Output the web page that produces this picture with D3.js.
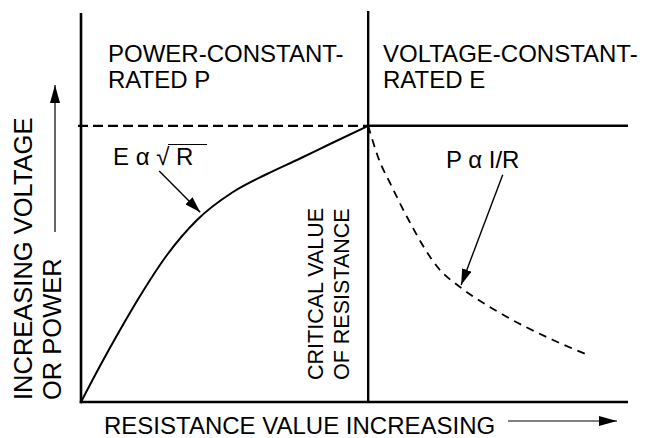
<!DOCTYPE html>
<html>
<head>
<meta charset="utf-8">
<script src="https://cdn.jsdelivr.net/npm/d3@7"></script>
<style>
  html, body { margin: 0; padding: 0; background: #fff; }
  svg { display: block; }
  text { font-family: "Liberation Sans", Arial, sans-serif; fill: #000; }
</style>
</head>
<body>
<svg id="chart" width="645" height="438"></svg>
<script>
// ---- data (abstract units: resistance 0..100, voltage/power 0..100) ----
const criticalR = 52.5;
const ratedLevel = 71;
// E ∝ √R  (voltage rising to the rated value)
const voltageCurveR = [0, 3.47, 7.13, 10.79, 15.72, 21.21, 27.79, 34.0, 40.04, 45.52, 52.5];
const voltageCurveV = [0, 9.25, 18.5, 27.25, 37.79, 46.79, 53.98, 58.61, 62.60, 66.32, 71.0];
// P ∝ 1/R (power falling beyond the critical value)
const powerCurveR = [52.5, 54.3, 56.86, 59.6, 65.63, 69.29, 76.6, 86.29, 92.69];
const powerCurveP = [71.0, 62.98, 55.27, 47.56, 33.93, 29.56, 22.88, 15.94, 12.08];
// region / formula labels
const regionLabels = [["POWER-CONSTANT-", "RATED P"], ["VOLTAGE-CONSTANT-", "RATED E"]];
const criticalLabel = ["CRITICAL VALUE", "OF RESISTANCE"];
const yLabel = ["INCREASING VOLTAGE", "OR POWER"];
const xLabel = "RESISTANCE VALUE INCREASING";
// formula annotations: arrow start / tip in data units
const formulaE = { text: "E α √", radicand: "R", from: [14.3, 59.4], to: [21.8, 48.8] };
const formulaP = { text: "P α I/R", from: [77.1, 58.4], to: [69.5, 30.1] };

// ---- layout ----
const svg = d3.select("#chart");
const x = d3.scaleLinear().domain([0, 100]).range([81, 628]);
const y = d3.scaleLinear().domain([0, 100]).range([402, 13]);
const FONT = 24;

// arrowhead markers
const defs = svg.append("defs");
function marker(id, w, h) {
  defs.append("marker").attr("id", id)
    .attr("viewBox", `0 0 ${w} ${h}`).attr("refX", w).attr("refY", h / 2)
    .attr("markerWidth", w).attr("markerHeight", h)
    .attr("markerUnits", "userSpaceOnUse").attr("orient", "auto")
    .append("path").attr("d", `M0,0L${w},${h / 2}L0,${h}Z`).attr("fill", "#000");
}
marker("ahBig", 18, 10);
marker("ahSmall", 16, 10);

// axes (plain lines, no ticks)
svg.append("line").attr("x1", x(0)).attr("x2", x(0)).attr("y1", y(100)).attr("y2", y(0) + 1.3)
  .attr("stroke", "#000").attr("stroke-width", 2.6);
svg.append("line").attr("x1", x(0) - 1.3).attr("x2", x(100)).attr("y1", y(0)).attr("y2", y(0))
  .attr("stroke", "#000").attr("stroke-width", 2.6);

// critical resistance line
svg.append("line").attr("x1", x(criticalR)).attr("x2", x(criticalR))
  .attr("y1", y(100.5)).attr("y2", y(0))
  .attr("stroke", "#000").attr("stroke-width", 2.4);

// rated level: dashed left, solid right
svg.append("line").attr("x1", x(0) - 3).attr("x2", x(criticalR)).attr("y1", y(ratedLevel)).attr("y2", y(ratedLevel))
  .attr("stroke", "#000").attr("stroke-width", 2.2).attr("stroke-dasharray", "10,5");
svg.append("line").attr("x1", x(criticalR)).attr("x2", x(100)).attr("y1", y(ratedLevel)).attr("y2", y(ratedLevel))
  .attr("stroke", "#000").attr("stroke-width", 2.4);

// curves
const line = d3.line().x(d => x(d[0])).y(d => y(d[1])).curve(d3.curveMonotoneX);
svg.append("path").datum(voltageCurveR.map((r, i) => [r, voltageCurveV[i]]))
  .attr("d", line).attr("fill", "none").attr("stroke", "#000").attr("stroke-width", 2);
svg.append("path").datum(powerCurveR.map((r, i) => [r, powerCurveP[i]]))
  .attr("d", line).attr("fill", "none").attr("stroke", "#000").attr("stroke-width", 1.8)
  .attr("stroke-dasharray", "8,6");

// region labels
[[108, regionLabels[0]], [383, regionLabels[1]]].forEach(([px, lines]) => {
  const t = svg.append("text").attr("font-size", FONT);
  lines.forEach((s, i) => t.append("tspan").attr("x", px).attr("y", 62 + i * 25.5).text(s));
});

// formula labels + arrows
svg.append("text").attr("x", 113).attr("y", 165).attr("font-size", FONT).text(formulaE.text);
svg.append("text").attr("x", 176).attr("y", 165).attr("font-size", FONT).text(formulaE.radicand);
svg.append("line").attr("x1", 168).attr("x2", 207).attr("y1", 144.5).attr("y2", 144.5)
  .attr("stroke", "#000").attr("stroke-width", 1.2);
svg.append("text").attr("x", 446).attr("y", 168).attr("font-size", FONT).text(formulaP.text);
[formulaE, formulaP].forEach(f => {
  svg.append("line").attr("x1", x(f.from[0])).attr("y1", y(f.from[1]))
    .attr("x2", x(f.to[0])).attr("y2", y(f.to[1]))
    .attr("stroke", "#000").attr("stroke-width", 1.4).attr("marker-end", "url(#ahSmall)");
});

// critical label (rotated)
criticalLabel.forEach((s, i) => {
  svg.append("text").attr("transform", `translate(${323 + i * 25.5},380) rotate(-90)`)
    .attr("font-size", 21.5).text(s);
});

// y label (rotated) + arrow
yLabel.forEach((s, i) => {
  svg.append("text").attr("transform", `translate(${32 + i * 29},400) rotate(-90)`)
    .attr("font-size", 25.5).text(s);
});
svg.append("line").attr("x1", 55).attr("x2", 55).attr("y1", 232).attr("y2", 85)
  .attr("stroke", "#000").attr("stroke-width", 1.2).attr("marker-end", "url(#ahBig)");

// x label + arrow
svg.append("text").attr("x", 104).attr("y", 434).attr("font-size", 24).text(xLabel);
svg.append("line").attr("x1", 508).attr("x2", 617).attr("y1", 421).attr("y2", 421)
  .attr("stroke", "#000").attr("stroke-width", 1.2).attr("marker-end", "url(#ahBig)");
</script>
</body>
</html>
